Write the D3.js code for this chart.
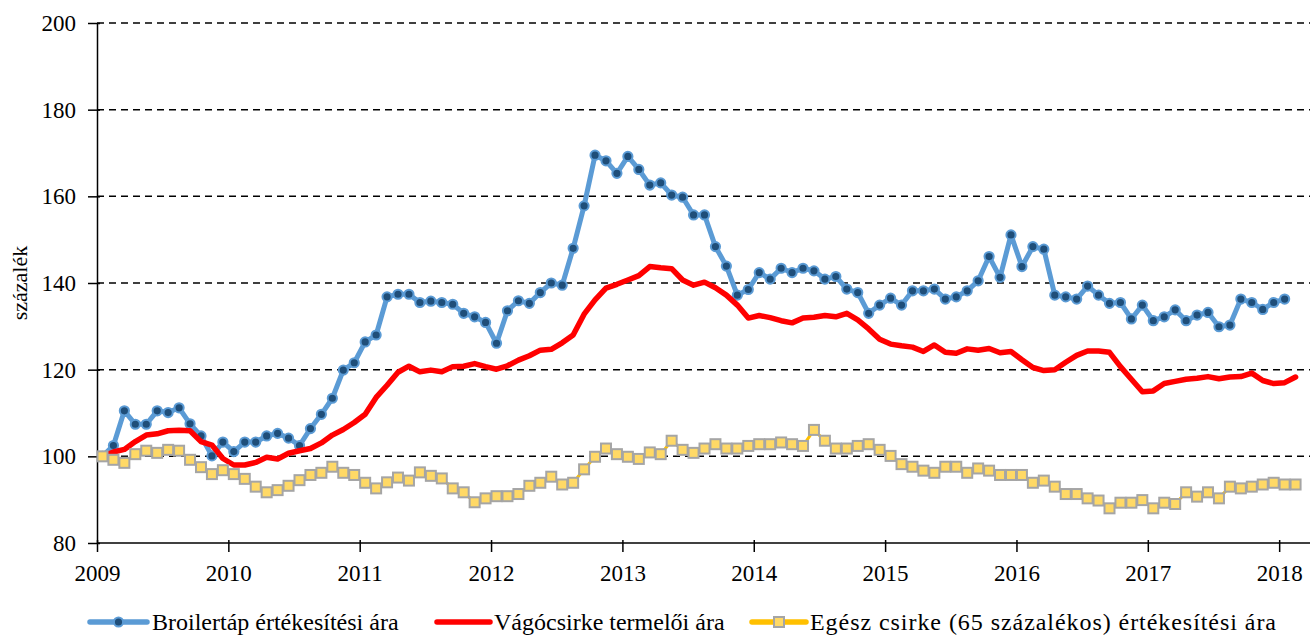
<!DOCTYPE html>
<html>
<head>
<meta charset="utf-8">
<script src="https://cdn.jsdelivr.net/npm/d3@7"></script>
<style>
  body { margin: 0; background: #fff; }
  svg { display: block; font-family: "Liberation Serif", "Times New Roman", serif; }
  .grid line { stroke: #000; stroke-width: 1.5; stroke-dasharray: 7,5; }
  .axis path, .axis line { stroke: #000; stroke-width: 1.5; }
  .axis text { font-size: 23px; fill: #000; font-family: "Liberation Serif", serif; }
  .legend text { font-size: 24px; fill: #000; }
</style>
</head>
<body>
<svg id="chart" width="1314" height="636"></svg>
<script>
// --- Data (monthly, Jan 2009 = 100) ---
const years = ["2009", "2010", "2011", "2012", "2013", "2014", "2015", "2016", "2017", "2018"];
const yTicks = [80, 100, 120, 140, 160, 180, 200];

const seriesNames = [
    "Broilertáp értékesítési ára",
    "Vágócsirke termelői ára",
    "Egész csirke (65 százalékos) értékesítési ára"
];

const broilertap = [
    100, 102.5, 110.5, 107.4, 107.4, 110.5, 110.1, 111.2, 107.5, 104.7, 100.1, 103.3,
    101.1, 103.3, 103.3, 104.7, 105.3, 104.2, 102.5, 106.4, 109.7, 113.4, 119.9, 121.6,
    126.4, 128.0, 136.8, 137.4, 137.4, 135.5, 135.8, 135.5, 135.1, 133.0, 132.2, 130.9,
    126.1, 133.6, 135.9, 135.3, 137.8, 140.0, 139.5, 148.0, 157.8, 169.5, 168.2, 165.3,
    169.2, 166.2, 162.6, 163.1, 160.3, 159.8, 155.7, 155.7, 148.4, 143.9, 137.2, 138.5,
    142.4, 140.9, 143.4, 142.4, 143.4, 142.8, 140.9, 141.5, 138.6, 137.8, 133.0, 134.9,
    136.5, 134.9, 138.2, 138.2, 138.6, 136.3, 136.8, 138.2, 140.5, 146.1, 141.3, 151.1,
    143.8, 148.4, 147.8, 137.2, 136.8, 136.3, 139.3, 137.2, 135.3, 135.5, 131.7, 134.9,
    131.3, 132.2, 133.8, 131.3, 132.6, 133.2, 129.9, 130.3, 136.3, 135.5, 133.9, 135.5,
    136.3
];

const vagocsirke = [
    100, 101.0, 101.6, 103.4, 104.9, 105.2, 105.9, 106.0, 105.9, 103.4, 102.6, 99.5,
    98.0, 98.0, 98.6, 99.8, 99.4, 100.7, 101.3, 101.8, 103.1, 104.9, 106.2, 107.8,
    109.7, 113.6, 116.4, 119.4, 120.8, 119.5, 119.9, 119.5, 120.7, 120.8, 121.4, 120.7,
    120.1, 120.9, 122.2, 123.2, 124.5, 124.7, 126.2, 128.0, 132.8, 136.1, 138.8, 139.7,
    140.7, 141.7, 143.8, 143.5, 143.3, 140.7, 139.5, 140.2, 138.9, 137.2, 134.9, 131.9,
    132.5, 132.0, 131.3, 130.8, 131.9, 132.1, 132.5, 132.2, 133.0, 131.5, 129.4, 127.0,
    125.9, 125.5, 125.2, 124.2, 125.7, 124.0, 123.8, 124.8, 124.5, 124.9, 123.9, 124.2,
    122.3, 120.5, 119.8, 120.0, 121.7, 123.3, 124.3, 124.3, 124.0, 120.7, 117.8, 114.9,
    115.1, 116.8, 117.3, 117.8, 118.0, 118.4, 117.9, 118.3, 118.4, 119.2, 117.5, 116.8,
    117.0, 118.3
];

const egeszCsirke = [
    100, 99.2, 98.5, 100.5, 101.3, 100.8, 101.5, 101.3, 99.2, 97.5, 95.9, 96.8,
    95.9, 94.8, 93.0, 91.7, 92.2, 93.2, 94.5, 95.7, 96.2, 97.6, 96.2, 95.7,
    93.9, 92.6, 94.0, 95.1, 94.4, 96.3, 95.5, 94.9, 92.6, 91.7, 89.4, 90.3,
    90.8, 90.8, 91.3, 93.2, 93.9, 95.3, 93.5, 93.9, 97.0, 99.9, 101.8, 100.5,
    99.9, 99.4, 100.9, 100.5, 103.6, 101.5, 100.8, 101.8, 102.8, 101.8, 101.8, 102.4,
    102.8, 102.8, 103.2, 102.8, 102.4, 106.1, 103.6, 101.8, 101.8, 102.4, 102.8, 101.5,
    100.1, 98.2, 97.6, 96.7, 96.2, 97.6, 97.6, 96.2, 97.2, 96.7, 95.7, 95.7,
    95.7, 93.9, 94.4, 93.0, 91.3, 91.3, 90.3, 89.8, 88.0, 89.3, 89.3, 89.9,
    88.0, 89.3, 89.0, 91.7, 90.7, 91.7, 90.3, 93.0, 92.6, 93.0, 93.5, 93.9,
    93.5, 93.5
];

// --- Layout ---
const svg = d3.select("#chart");
const margin = { left: 97, right: 2, top: 23, bottom: 93 };
const width = 1314, height = 636;
const monthCount = 111;

const x = d3.scaleLinear().domain([0, monthCount]).range([margin.left, width - margin.right]);
const y = d3.scaleLinear().domain([80, 200]).range([height - margin.bottom, margin.top]);
const mx = i => x(i + 0.5);

// gridlines
svg.append("g").attr("class", "grid")
    .selectAll("line").data(yTicks.filter(t => t > 80)).enter().append("line")
    .attr("x1", x(0)).attr("x2", x(monthCount) - 2)
    .attr("y1", d => y(d)).attr("y2", d => y(d));

// axes
const xAxis = svg.append("g").attr("class", "axis")
    .attr("transform", `translate(0,${y(80)})`)
    .call(d3.axisBottom(x)
        .tickValues(years.map((_, i) => i * 12))
        .tickFormat((d, i) => years[i])
        .tickSizeInner(9).tickSizeOuter(0).tickPadding(13));
xAxis.select(".domain").attr("d", `M${x(0)},0H${x(monthCount) - 2}`);
xAxis.selectAll(".tick line").attr("y1", -3);

const yAxis = svg.append("g").attr("class", "axis")
    .attr("transform", `translate(${x(0)},0)`)
    .call(d3.axisLeft(y).tickValues(yTicks).tickSizeInner(9).tickSizeOuter(0).tickPadding(12));
yAxis.selectAll(".tick line").attr("x1", 3);

svg.append("text")
    .attr("transform", `translate(27,${(y(80) + y(200)) / 2}) rotate(-90)`)
    .attr("text-anchor", "middle")
    .attr("font-size", 22)
    .text("százalék");

// series
const line = d3.line().x((d, i) => mx(i)).y(d => y(d));

// Broilertáp
svg.append("path").datum(broilertap)
    .attr("fill", "none").attr("stroke", "#5B9BD5").attr("stroke-width", 5)
    .attr("stroke-linejoin", "round").attr("d", line);
svg.append("g").selectAll("circle").data(broilertap).enter().append("circle")
    .attr("cx", (d, i) => mx(i)).attr("cy", d => y(d)).attr("r", 4.6)
    .attr("fill", "#1F4E79").attr("stroke", "#5B9BD5").attr("stroke-width", 2);

// Vágócsirke
svg.append("path").datum(vagocsirke)
    .attr("fill", "none").attr("stroke", "#FF0000").attr("stroke-width", 5.5)
    .attr("stroke-linejoin", "round").attr("stroke-linecap", "round").attr("d", line);

// Egész csirke
svg.append("path").datum(egeszCsirke)
    .attr("fill", "none").attr("stroke", "#FFC000").attr("stroke-width", 3)
    .attr("d", line);
svg.append("g").selectAll("rect").data(egeszCsirke).enter().append("rect")
    .attr("x", (d, i) => mx(i) - 5).attr("y", d => y(d) - 5)
    .attr("width", 10).attr("height", 10)
    .attr("fill", "#FFD966").attr("stroke", "#A5A5A5").attr("stroke-width", 2);

// legend
const legend = svg.append("g").attr("class", "legend");
const legY = 622;
const items = [
    { x0: 90, x1: 147, color: "#5B9BD5", tx: 152, marker: "circle" },
    { x0: 437, x1: 490, color: "#FF0000", tx: 494, marker: null },
    { x0: 752, x1: 806, color: "#FFC000", tx: 810, marker: "rect", len: 466 }
];
items.forEach((it, k) => {
    legend.append("line")
        .attr("x1", it.x0).attr("x2", it.x1).attr("y1", legY).attr("y2", legY)
        .attr("stroke", it.color).attr("stroke-width", 5.5).attr("stroke-linecap", "round");
    const cx = (it.x0 + it.x1) / 2;
    if (it.marker === "circle") {
        legend.append("circle").attr("cx", cx).attr("cy", legY).attr("r", 4.6)
            .attr("fill", "#1F4E79").attr("stroke", "#5B9BD5").attr("stroke-width", 2);
    } else if (it.marker === "rect") {
        legend.append("rect").attr("x", cx - 5).attr("y", legY - 5).attr("width", 10).attr("height", 10)
            .attr("fill", "#FFD966").attr("stroke", "#A5A5A5").attr("stroke-width", 2);
    }
    const t = legend.append("text").attr("x", it.tx).attr("y", legY).attr("dy", "0.35em").text(seriesNames[k]);
    if (it.len) t.attr("textLength", it.len).attr("lengthAdjust", "spacing");
});
</script>
</body>
</html>
